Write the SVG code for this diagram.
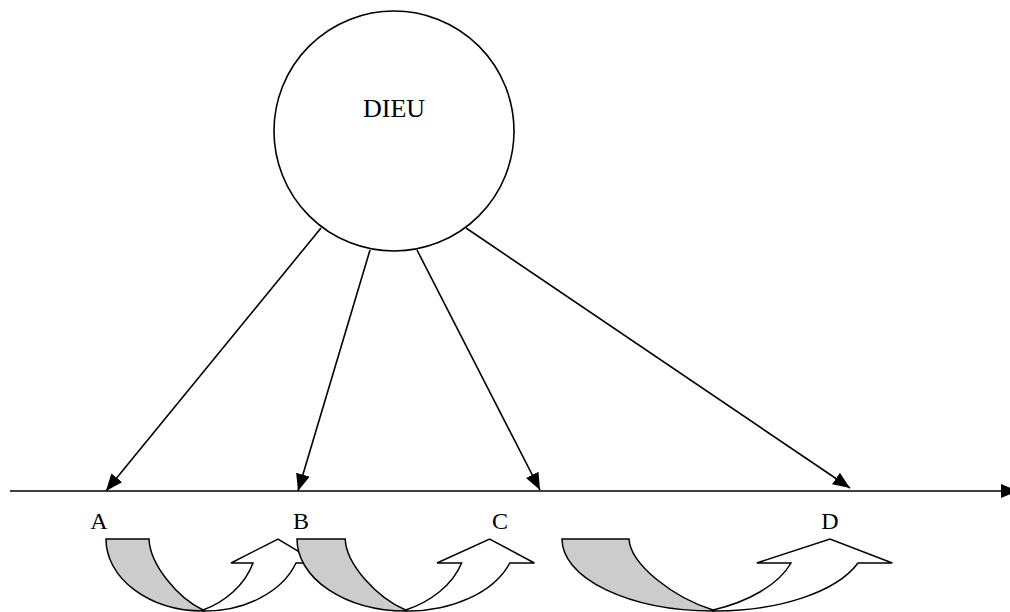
<svg xmlns="http://www.w3.org/2000/svg" width="1010" height="612" viewBox="0 0 1010 612">
<style>
.ln{stroke:#000;stroke-width:1.6;fill:none}
.lbl{font-family:"Liberation Serif","Times New Roman",serif;font-size:24px;fill:#000;text-anchor:middle}
.big{font-size:26px}
.back{fill:#cccccc;stroke:#000;stroke-width:1.5;stroke-linejoin:miter}
.front{fill:#fff;stroke:#000;stroke-width:1.5;stroke-linejoin:miter}
</style>
<defs>
<marker id="ah" markerUnits="userSpaceOnUse" markerWidth="17" markerHeight="14" refX="17" refY="7" orient="auto">
<path d="M0,0 L17,7 L0,14 Z" fill="#000"/>
</marker>
</defs>
<rect width="1010" height="612" fill="#fff"/>
<g id="dieu">
<circle cx="394" cy="131" r="120" fill="#fff" stroke="#000" stroke-width="1.6"/>
<text class="lbl big" x="394" y="117">DIEU</text>
</g>
<g id="connectors">
<line class="ln" x1="10" y1="491" x2="1018" y2="491" marker-end="url(#ah)"/>
<line class="ln" x1="321" y1="228" x2="106" y2="491" marker-end="url(#ah)"/>
<line class="ln" x1="370" y1="250" x2="298" y2="491" marker-end="url(#ah)"/>
<line class="ln" x1="417" y1="250" x2="540" y2="490" marker-end="url(#ah)"/>
<line class="ln" x1="466" y1="228" x2="850" y2="488" marker-end="url(#ah)"/>
</g>
<g id="label-A"><text class="lbl" x="99" y="529">A</text></g>
<g id="label-B"><text class="lbl" x="301" y="529">B</text></g>
<g id="label-C"><text class="lbl" x="500" y="529">C</text></g>
<g id="label-D"><text class="lbl" x="830" y="529">D</text></g>
<g id="curve-A">
<path class="back" d="M106,539 L149,539 C150,565 178,598 203,610 L203,611 A97,72 0 0 1 106,539 Z"/>
<path class="front" d="M203,610 C225,602 245,585 253,563 L231,563 L278,539 L318,563 L296,563 A97,72 0 0 1 203,611 Z"/>
</g>
<g id="curve-B">
<path class="back" d="M297,539 L345.2,539 C346.3,565 377.6,598 405.6,610 L405.6,611 A108.6,72 0 0 1 297,539 Z"/>
<path class="front" d="M405.6,610 C430.3,602 452.7,585 461.6,563 L437,563 L489.6,539 L534.4,563 L509.8,563 A108.6,72 0 0 1 405.6,611 Z"/>
</g>
<g id="curve-C">
<path class="back" d="M562,539 L629,539 C630.6,565 674.2,598 713.1,610 L713.1,611 A151.1,72 0 0 1 562,539 Z"/>
<path class="front" d="M713.1,610 C747.4,602 778.6,585 791,563 L756.8,563 L830,539 L892.3,563 L858,563 A151.1,72 0 0 1 713.1,611 Z"/>
</g>
</svg>
